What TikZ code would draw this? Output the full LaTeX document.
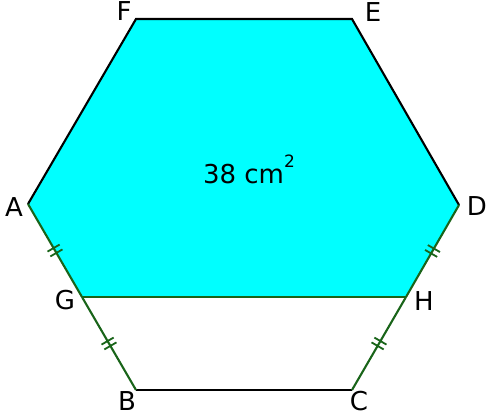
\documentclass[tikz,border=0pt]{standalone}
\usepackage{fontspec}
\setmainfont{DejaVu Sans}
\usetikzlibrary{decorations.markings}
\definecolor{cyanfill}{RGB}{0,255,255}
\definecolor{seggreen}{RGB}{25,100,25}
\begin{document}
\begin{tikzpicture}[x=1pt,y=-1pt,
  lbl/.style={font=\fontsize{26}{30}\selectfont, inner sep=0pt},
  edge/.style={line width=2.1pt, line join=miter},
  greenedge/.style={line width=2.1pt, draw=seggreen},
  ticks/.style={postaction={decorate, decoration={markings, mark=at position 0.5 with {
      \draw[seggreen, line width=1.8pt] (-2.8pt,-7pt) -- (-2.8pt,7pt);
      \draw[seggreen, line width=1.8pt] (2.8pt,-7pt) -- (2.8pt,7pt);}}}}]
\useasboundingbox (0,0) rectangle (486,419);
\coordinate (A) at (28,204);
\coordinate (F) at (136,19);
\coordinate (E) at (352,19);
\coordinate (D) at (459,205);
\coordinate (C) at (352,390);
\coordinate (B) at (136,390);
\coordinate (G) at (82,297);
\coordinate (H) at (406,297);
\fill[cyanfill] (A) -- (F) -- (E) -- (D) -- (H) -- (G) -- cycle;
\draw[edge] (A) -- (F) -- (E) -- (D);
\draw[edge] (B) -- (C);
\draw[greenedge] (G) -- (H);
\draw[greenedge, ticks] (A) -- (G);
\draw[greenedge, ticks] (G) -- (B);
\draw[greenedge, ticks] (D) -- (H);
\draw[greenedge, ticks] (H) -- (C);
\node[lbl] (lA) at (14,207) {A};
\node[lbl] (lF) at (124,11) {F};
\node[lbl] (lE) at (373,12) {E};
\node[lbl] (lD) at (477,206) {D};
\node[lbl] (lG) at (65,300) {G};
\node[lbl] (lH) at (424,301) {H};
\node[lbl] (lB) at (127,401) {B};
\node[lbl] (lC) at (359,401) {C};
\node[lbl] (area) at (249,169) {38 cm\raisebox{0.62em}{\fontsize{17}{17}\selectfont 2}};
\end{tikzpicture}
\end{document}
